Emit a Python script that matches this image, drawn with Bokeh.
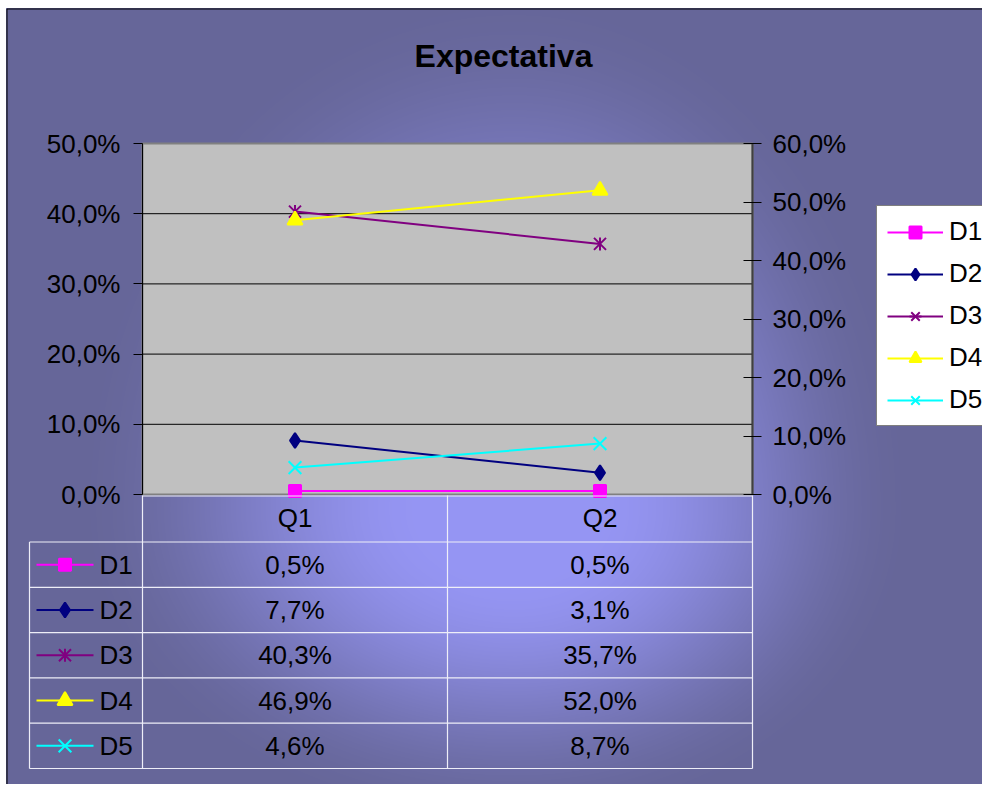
import base64
import struct
import zlib

import numpy as np
from bokeh.plotting import figure
from bokeh.models import (Range1d, LinearAxis, FixedTicker, InlineStyleSheet,
                          CustomJSTickFormatter, Legend, LegendItem)
from bokeh.embed import file_html
from bokeh.resources import INLINE
from bokeh.core.properties import value

# ---------------- data ----------------
title_text = "Expectativa"
categories = ["Q1", "Q2"]
series_names = ["D1", "D2", "D3", "D4", "D5"]
d1 = [0.005, 0.005]
d2 = [0.077, 0.031]
d3 = [0.403, 0.357]
d4 = [0.469, 0.520]
d5 = [0.046, 0.087]
series_values = [d1, d2, d3, d4, d5]
series_axis = ["default", "default", "default", "sec", "sec"]
left_ticks = [0.0, 0.1, 0.2, 0.3, 0.4, 0.5]
right_ticks = [0.0, 0.1, 0.2, 0.3, 0.4, 0.5, 0.6]

# ---------------- styles / layout (pixels) ----------------
colors = ["#FF00FF", "#000080", "#800080", "#FFFF00", "#00FFFF"]
marker_specs = [
    [("square", 12, True)],
    [("diamond", 15, True)],
    [("x", 17, False), ("dash", 13, False)],
    [("triangle", 15, True)],
    [("x", 18, False)],
]
FONT = "Liberation Sans"
FS = "26px"

W, H = 982, 784
PL, PR, PT, PB = 142, 752, 143, 494      # plot area in page pixels
ncat = len(categories)
COLW = (PR - PL) / ncat                   # px per category
L_MAX = left_ticks[-1]
R_MAX = right_ticks[-1]
YPX = (PB - PT) / L_MAX                   # px per unit, primary axis
YPX2 = (PB - PT) / R_MAX                  # px per unit, secondary axis

p = figure(width=W, height=H,
           x_range=Range1d(-PL / COLW, (W - PL) / COLW),
           y_range=Range1d(-(H - PB) / YPX, L_MAX + PT / YPX),
           x_axis_location=None, y_axis_location=None,
           output_backend="svg", toolbar_location=None,
           min_border=0, min_border_left=0, min_border_right=0,
           min_border_top=0, min_border_bottom=0)
p.extra_y_ranges = {"sec": Range1d(-(H - PB) / YPX2, R_MAX + PT / YPX2),
                    "px": Range1d(H, 0)}
p.extra_x_ranges = {"px": Range1d(0, W)}
p.border_fill_color = None
p.background_fill_color = None
p.outline_line_color = None
p.grid.visible = False

pct_fmt = CustomJSTickFormatter(
    code="return (tick*100).toFixed(1).replace('.', ',') + '%';")

# ---------------- chart frame ----------------
p.segment(x0=[6.5, 6.5], y0=[H + 2, 8.5], x1=[6.5, W + 2], y1=[8.5, 8.5],
          x_range_name="px", y_range_name="px", line_color="#000000", line_width=1)

# plot area
p.quad(left=[0], right=[ncat], bottom=[0], top=[L_MAX], fill_color="#C0C0C0",
       line_color="#808080", line_width=2)
grid_ticks = left_ticks[1:-1]
p.segment(x0=[0] * len(grid_ticks), x1=[ncat] * len(grid_ticks), y0=grid_ticks,
          y1=grid_ticks, line_color="#000000", line_width=1)

# title
p.text(x=[503], y=[55], text=[title_text], x_range_name="px", y_range_name="px",
       text_font=value(FONT), text_font_size=value("32px"),
       text_font_style="bold", text_color="#000000",
       text_align="center", text_baseline="middle")

# axes
la = LinearAxis(ticker=FixedTicker(ticks=left_ticks), formatter=pct_fmt,
                fixed_location=0, bounds=(0, L_MAX))
la.major_tick_in = 0
la.major_tick_out = 9
la.minor_tick_in = 0
la.minor_tick_out = 0
la.axis_line_color = "#000000"
la.major_tick_line_color = "#000000"
la.major_label_text_font = FONT
la.major_label_text_font_size = FS
la.major_label_text_color = "#000000"
la.major_label_standoff = 13
p.add_layout(la, "left")

ra = LinearAxis(y_range_name="sec", ticker=FixedTicker(ticks=right_ticks),
                formatter=pct_fmt, fixed_location=ncat, bounds=(0, R_MAX))
ra.major_tick_in = 9
ra.major_tick_out = 9
ra.minor_tick_in = 0
ra.minor_tick_out = 0
ra.axis_line_color = "#404040"
ra.axis_line_width = 2
ra.major_tick_line_color = "#000000"
ra.major_label_text_font = FONT
ra.major_label_text_font_size = FS
ra.major_label_text_color = "#000000"
ra.major_label_standoff = 11
p.add_layout(ra, "right")


def add_markers(xs, ys, i, x_range_name="default", y_range_name="default"):
    rs = []
    for mk, sz, filled in marker_specs[i]:
        ang = 1.5707963267948966 if mk == "dash" else 0.0
        r = p.scatter(xs, ys, marker=mk, size=sz, angle=ang,
                      line_color=colors[i], line_width=2,
                      fill_color=colors[i] if filled else None,
                      x_range_name=x_range_name, y_range_name=y_range_name)
        rs.append(r)
    return rs


# series
cat_x = [c + 0.5 for c in range(ncat)]
items = []
for i, name in enumerate(series_names):
    rn = series_axis[i]
    lr = p.line(cat_x, series_values[i], line_color=colors[i], line_width=2,
                y_range_name=rn)
    mrs = add_markers(cat_x, series_values[i], i, y_range_name=rn)
    items.append(LegendItem(label=name, renderers=[lr] + mrs))

legend = Legend(items=items, location=(876, H - 426),
                label_text_font=FONT, label_text_font_size=FS,
                label_text_color="#000000",
                glyph_width=56, glyph_height=30, label_standoff=6,
                spacing=11, padding=10, margin=0,
                border_line_color="#000000", border_line_width=1,
                background_fill_color="#FFFFFF", background_fill_alpha=1.0)
p.add_layout(legend, "center")

# ---------------- data table (pixel space) ----------------
nser = len(series_names)
HEAD_H = 47.5
ROW_H = 45.3
KEY_L = 29
row_top = PB + HEAD_H
edges = [row_top + k * ROW_H for k in range(nser + 1)]
col_edges = [PL + c * COLW for c in range(ncat + 1)]
line_col = "#EEEEF8"

hx0 = [PL] + [KEY_L] * len(edges)
hx1 = [PR] * (len(edges) + 1)
hy = [PB + 1.5] + edges
p.segment(x0=hx0, y0=hy, x1=hx1, y1=hy, x_range_name="px", y_range_name="px",
          line_color=line_col, line_width=1.2)
vx = col_edges + [KEY_L]
vy0 = [PB + 1] * (ncat + 1) + [row_top]
vy1 = [edges[-1]] * (ncat + 2)
p.segment(x0=vx, y0=vy0, x1=vx, y1=vy1, x_range_name="px", y_range_name="px",
          line_color=line_col, line_width=1.2)

head_y = PB + HEAD_H / 2
row_y = [row_top + (k + 0.5) * ROW_H for k in range(nser)]
col_c = [PL + (c + 0.5) * COLW for c in range(ncat)]
p.text(x=col_c, y=[head_y] * ncat, text=categories,
       x_range_name="px", y_range_name="px",
       text_font=value(FONT), text_font_size=value(FS), text_color="#000000",
       text_align="center", text_baseline="middle")
tx, ty, tt = [], [], []
for i in range(nser):
    for c in range(ncat):
        tx.append(col_c[c])
        ty.append(row_y[i])
        tt.append(("%.1f" % (series_values[i][c] * 100)).replace(".", ",") + "%")
p.text(x=tx, y=ty, text=tt, x_range_name="px", y_range_name="px",
       text_font=value(FONT), text_font_size=value(FS), text_color="#000000",
       text_align="center", text_baseline="middle")
for i, name in enumerate(series_names):
    p.segment(x0=[36], y0=[row_y[i]], x1=[93], y1=[row_y[i]],
              x_range_name="px", y_range_name="px",
              line_color=colors[i], line_width=2)
    add_markers([64.5], [row_y[i]], i, x_range_name="px", y_range_name="px")
p.text(x=[99] * nser, y=row_y, text=series_names,
       x_range_name="px", y_range_name="px",
       text_font=value(FONT), text_font_size=value(FS), text_color="#000000",
       text_align="left", text_baseline="middle")

# ---------------- background gradient (CSS) ----------------
BX, BY = 6, 8
BW, BH = W - BX + 10, H - BY + 10      # a bit larger than the element
gx = BX + np.arange(BW) + 0.5
gy = BY + np.arange(BH) + 0.5
X, Y = np.meshgrid(gx, gy)
cx, cy = 515.0, 510.0
dx = X - cx
dy = Y - cy
ax = np.where(dx < 0, 440.0, 400.0)
by = np.where(dy < 0, 520.0, 320.0)
t = np.sqrt((dx / ax) ** 2 + (dy / by) ** 2)
s = np.clip((t - 0.2) / 0.8, 0, 1)
f = s * s * (3 - 2 * s)
light = np.array([149, 149, 243], dtype=float)
dark = np.array([102, 102, 153], dtype=float)
img = (light[None, None, :] * (1 - f[..., None]) + dark[None, None, :] * f[..., None])
img = np.clip(np.round(img), 0, 255).astype(np.uint8)


def png_bytes(arr):
    h, w, _ = arr.shape
    a = arr.astype(np.int16).reshape(h, w * 3)
    sub = a.copy()
    sub[:, 3:] = a[:, 3:] - a[:, :-3]
    sub = (sub % 256).astype(np.uint8)
    raw = b"".join(b"\x01" + sub[k].tobytes() for k in range(h))

    def chunk(tag, data):
        c = struct.pack(">I", len(data)) + tag + data
        return c + struct.pack(">I", zlib.crc32(tag + data) & 0xFFFFFFFF)

    return (b"\x89PNG\r\n\x1a\n"
            + chunk(b"IHDR", struct.pack(">IIBBBBB", w, h, 8, 2, 0, 0, 0))
            + chunk(b"IDAT", zlib.compress(raw, 9))
            + chunk(b"IEND", b""))


b64 = base64.b64encode(png_bytes(img)).decode("ascii")
p.styles = {
    "background-color": "#FFFFFF",
    "background-image": "url('data:image/png;base64,%s')" % b64,
    "background-position": "%dpx %dpx" % (BX, BY),
    "background-size": "%dpx %dpx" % (BW, BH),
    "background-repeat": "no-repeat",
    "border": "0",
    "outline": "0",
    "box-shadow": "none",
}
p.stylesheets = [InlineStyleSheet(
    css="* { outline: none !important; box-shadow: none !important; }")]

open("out.html", "w").write(file_html(p, INLINE))
